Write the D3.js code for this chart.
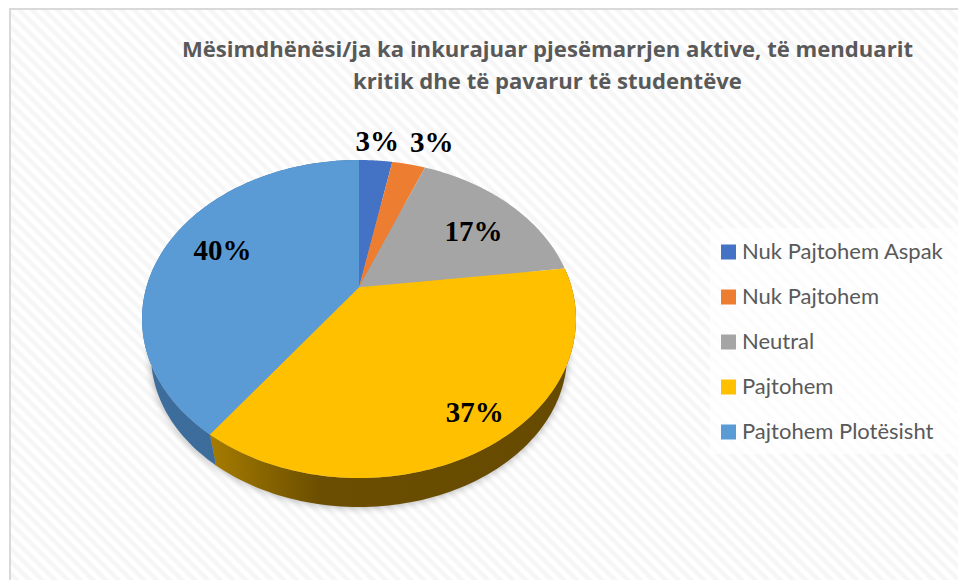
<!DOCTYPE html>
<html>
<head>
<meta charset="utf-8">
<script src="https://cdn.jsdelivr.net/npm/d3@7"></script>
<style>
  html, body { margin: 0; padding: 0; background: #fff; }
  svg { display: block; }
</style>
</head>
<body>
<div class="chart"></div>
<script>
// chart data
var titleLines = ['Mësimdhënësi/ja ka inkurajuar pjesëmarrjen aktive, të menduarit', 'kritik dhe të pavarur të studentëve'];
var categories = ['Nuk Pajtohem Aspak', 'Nuk Pajtohem', 'Neutral', 'Pajtohem', 'Pajtohem Plotësisht'];
var values = [3, 3, 17, 37, 40];
var colors = ['#4472c4', '#ed7d31', '#a5a5a5', '#ffc000', '#5b9bd5'];

var svgWidth = 958;
var svgHeight = 580;

var svg = d3.select('.chart')
    .append('svg')
    .attr('width', svgWidth)
    .attr('height', svgHeight);

var defs = svg.append('defs');

// striped background
var stripes = defs.append('pattern')
    .attr('id', 'stripes')
    .attr('width', 9)
    .attr('height', 9)
    .attr('patternUnits', 'userSpaceOnUse')
    .attr('patternTransform', 'rotate(45)');
stripes.append('rect').attr('width', 9).attr('height', 9).attr('fill', '#ffffff');
stripes.append('rect').attr('width', 9).attr('height', 4.5).attr('fill', '#f6f6f6');

// side shading
var yellowSide = defs.append('linearGradient').attr('id', 'yellowSide');
yellowSide.append('stop').attr('offset', '0%').attr('stop-color', '#a67c00');
yellowSide.append('stop').attr('offset', '30%').attr('stop-color', '#6b4e00');
yellowSide.append('stop').attr('offset', '100%').attr('stop-color', '#664a00');

var blueSide = defs.append('linearGradient').attr('id', 'blueSide');
blueSide.append('stop').attr('offset', '0%').attr('stop-color', '#3d6d9c');
blueSide.append('stop').attr('offset', '100%').attr('stop-color', '#3b6b98');

var blur = defs.append('filter')
    .attr('id', 'pieShadow')
    .attr('x', '-10%').attr('y', '-10%').attr('width', '120%').attr('height', '120%');
blur.append('feGaussianBlur').attr('stdDeviation', 4);

svg.append('rect')
    .attr('x', 10).attr('y', 9)
    .attr('width', svgWidth).attr('height', svgHeight)
    .attr('fill', 'url(#stripes)')
    .attr('stroke', '#d9d9d9')
    .attr('stroke-width', 2);

// title
svg.append('g').selectAll('text')
    .data(titleLines)
    .enter()
    .append('text')
    .attr('x', 547.5)
    .attr('y', function(d, i) { return 57 + i * 31.5; })
    .attr('text-anchor', 'middle')
    .attr('font-family', '"Open Sans", sans-serif')
    .attr('font-weight', 700)
    .attr('font-size', 22.1)
    .attr('fill', '#595959')
    .text(function(d) { return d; });

// pie layout, clockwise from 12 o'clock
var pie = d3.pie().sort(null).value(function(d) { return d; });
var arcs = pie(values);

// tilted disc: the rim is an ellipse, the centre sits up from the ellipse middle
var tilt = -0.2;
var topRim = {cx: 359, cy: 319, rx: 217, ry: 159};
var bottomRim = {cx: 359, cy: 355, rx: 208, ry: 152};

function project(rim, angle, r) {
    var x = r * Math.sin(angle);
    var y = -r * Math.cos(angle);
    var w = 1 + tilt * y;
    return [
        rim.cx + rim.rx * x * Math.sqrt(1 - tilt * tilt) / w,
        rim.cy + rim.ry * (y + tilt) / w
    ];
}

function rimPoints(rim, a0, a1) {
    return d3.range(0, 101).map(function(i) {
        return project(rim, a0 + (a1 - a0) * i / 100, 1);
    });
}

var line = d3.line();

function sidePath(a0, a1) {
    return line(rimPoints(topRim, a0, a1).concat(rimPoints(bottomRim, a0, a1).reverse())) + 'Z';
}

function slicePath(a) {
    return line([project(topRim, 0, 0)].concat(rimPoints(topRim, a.startAngle, a.endAngle))) + 'Z';
}

// soft shadow under the disc
svg.append('path')
    .attr('d', line(rimPoints(bottomRim, 0, 2 * Math.PI)) + 'Z')
    .attr('fill', '#000')
    .attr('opacity', 0.35)
    .attr('filter', 'url(#pieShadow)');

// sides
var sideFill = {3: 'url(#yellowSide)', 4: 'url(#blueSide)'};
svg.append('g').selectAll('path')
    .data(arcs.filter(function(a) { return sideFill[a.index]; }))
    .enter()
    .append('path')
    .attr('d', function(a) { return sidePath(a.startAngle, a.endAngle); })
    .attr('fill', function(a) { return sideFill[a.index]; });

// top face
svg.append('g').selectAll('path')
    .data(arcs)
    .enter()
    .append('path')
    .attr('d', slicePath)
    .attr('fill', function(a) { return colors[a.index]; });

// data labels, radius along the slice middle plus a nudge in pixels
var labelRadius = [1.12, 1.17, 0.68, 0.74, 0.72];
var labelNudge = [[0, -7], [16, -5], [9, 2], [24, 13], [3, -5]];
svg.append('g').selectAll('text')
    .data(arcs)
    .enter()
    .append('text')
    .attr('transform', function(a) {
        var p = project(topRim, (a.startAngle + a.endAngle) / 2, labelRadius[a.index]);
        var n = labelNudge[a.index];
        return 'translate(' + (p[0] + n[0]) + ',' + (p[1] + n[1]) + ')';
    })
    .attr('dy', '0.35em')
    .attr('text-anchor', 'middle')
    .attr('font-family', '"Liberation Serif", serif')
    .attr('font-weight', 700)
    .attr('font-size', 29)
    .attr('fill', '#000')
    .text(function(a) { return a.data + '%'; });

// legend
var legendY = d3.scalePoint().domain(categories).range([252, 432]);

svg.append('rect')
    .attr('x', 710).attr('y', 228)
    .attr('width', 248).attr('height', 226)
    .attr('fill', '#ffffff')
    .attr('opacity', 0.7);

var legend = svg.append('g').selectAll('g')
    .data(categories)
    .enter()
    .append('g')
    .attr('transform', function(d) { return 'translate(721,' + legendY(d) + ')'; });

legend.append('rect')
    .attr('y', -7.5)
    .attr('width', 15)
    .attr('height', 15)
    .attr('fill', function(d, i) { return colors[i]; });

legend.append('text')
    .attr('x', 21)
    .attr('dy', '0.3em')
    .attr('font-family', 'Lato, sans-serif')
    .attr('font-size', 22)
    .attr('fill', '#595959')
    .text(function(d) { return d; });
</script>
</body>
</html>
